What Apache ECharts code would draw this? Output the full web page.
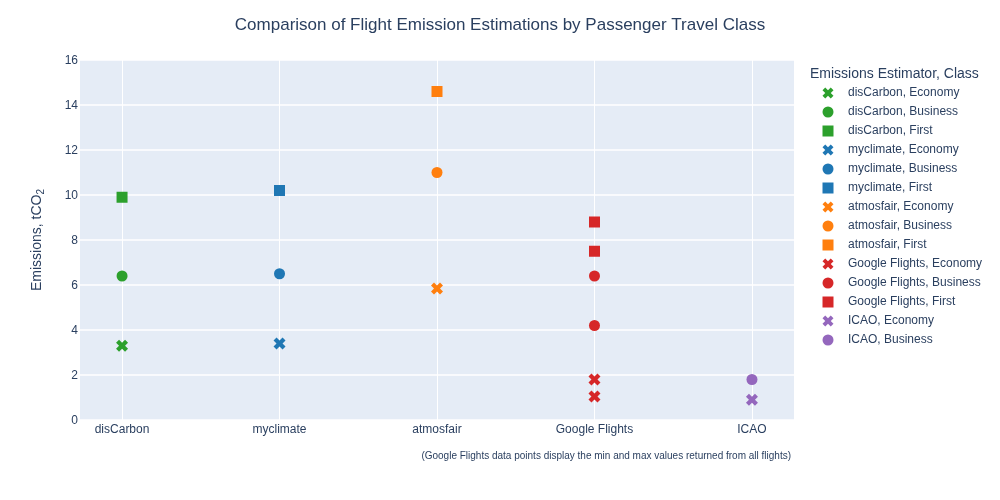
<!DOCTYPE html>
<html>
<head>
<meta charset="utf-8">
<style>
	html, body { margin: 0; padding: 0; background: #fff; }
	#chart { width: 1000px; height: 500px; }
</style>
<script src="https://cdn.jsdelivr.net/npm/echarts@6/dist/echarts.min.js"></script>
</head>
<body>
<div id="chart"></div>
<script>
// one x slot per estimator, Google Flights has a min and a max for each class
var estimators = ['disCarbon', 'myclimate', 'atmosfair', 'Google Flights', 'ICAO'];
var classes = ['Economy', 'Business', 'First'];
var colors = ['#2ca02c', '#1f77b4', '#ff7f0e', '#d62728', '#9467bd'];

var disCarbon = [[3.3], [6.4], [9.9]];
var myclimate = [[3.4], [6.5], [10.2]];
var atmosfair = [[5.85], [11], [14.6]];
var googleFlights = [[1.05, 1.8], [4.2, 6.4], [7.5, 8.8]];
var icao = [[0.9], [1.8]];
var estimatorValues = [disCarbon, myclimate, atmosfair, googleFlights, icao];

var yTicks = [0, 2, 4, 6, 8, 10, 12, 14, 16];
var xTicks = [0, 1, 2, 3, 4];

var font = '"Liberation Sans", Arial, sans-serif';
var ink = '#2a3f5f';
var crossPath = 'path://M2.5 0L5 2.5L7.5 0L10 2.5L7.5 5L10 7.5L7.5 10L5 7.5L2.5 10L0 7.5L2.5 5L0 2.5Z';
var squarePath = 'path://M0 0H10V10H0Z';
var symbols = [crossPath, 'circle', squarePath];
var symbolSizes = [12, 11, 11];

var series = [];
var legendData = [];
estimators.forEach(function (name, e) {
	estimatorValues[e].forEach(function (vals, c) {
		var label = name + ', ' + classes[c];
		legendData.push({ name: label, icon: symbols[c] });
		series.push({
			name: label,
			type: 'scatter',
			symbol: symbols[c],
			symbolSize: symbolSizes[c],
			symbolKeepAspect: true,
			itemStyle: { color: colors[e], opacity: 1 },
			data: vals.map(function (v) { return [e, v]; })
		});
	});
});

var mychart = echarts.init(document.getElementById('chart'));
mychart.setOption({
	animation: false,
	textStyle: { fontFamily: font },
	title: [
		{
			text: 'Comparison of Flight Emission Estimations by Passenger Travel Class',
			left: 500, top: 17, padding: 0, textAlign: 'center',
			textStyle: { fontFamily: font, fontSize: 17, fontWeight: 'normal', color: ink }
		},
		{
			text: 'Emissions Estimator, Class',
			left: 810, top: 67, padding: 0,
			textStyle: { fontFamily: font, fontSize: 14, fontWeight: 'normal', color: ink }
		},
		{
			text: '(Google Flights data points display the min and max values returned from all flights)',
			left: 791, top: 451, padding: 0, textAlign: 'right',
			textStyle: { fontFamily: font, fontSize: 10, fontWeight: 'normal', color: ink }
		}
	],
	legend: {
		orient: 'vertical',
		left: 822.5,
		top: 87,
		padding: 0,
		itemWidth: 30,
		itemHeight: 11,
		itemGap: 7,
		selectedMode: false,
		data: legendData,
		textStyle: { fontFamily: font, fontSize: 12, color: ink, padding: [4, 0, 0, 0] }
	},
	grid: {
		left: 80, right: 206, top: 60, bottom: 80,
		show: true, backgroundColor: '#E5ECF6', borderWidth: 0
	},
	xAxis: {
		type: 'value',
		min: -0.267,
		max: 4.267,
		axisLine: { show: false },
		axisTick: { show: false, customValues: xTicks },
		axisLabel: {
			customValues: xTicks,
			color: ink, fontFamily: font, fontSize: 12, margin: 4,
			formatter: function (v) { return estimators[v]; }
		},
		splitLine: { show: true, lineStyle: { color: '#fff', width: 1 } }
	},
	yAxis: {
		type: 'value',
		min: 0,
		max: 16,
		interval: 2,
		name: '{main|Emissions, tCO}{sub|2}',
		nameLocation: 'middle',
		nameGap: 34,
		nameTextStyle: {
			rich: {
				main: { fontFamily: font, fontSize: 14, color: ink, lineHeight: 18 },
				sub: { fontFamily: font, fontSize: 10, color: ink, lineHeight: 18, verticalAlign: 'bottom' }
			}
		},
		axisLine: { show: false },
		axisTick: { show: false },
		axisLabel: {
			margin: 2,
			customValues: yTicks,
			formatter: '{t|{value}}',
			rich: {
				t: { color: ink, fontFamily: font, fontSize: 12, padding: [2, 0, 0, 0] }
			}
		},
		splitLine: { show: true, lineStyle: { color: '#fff', width: 1.5 } }
	},
	series: series
});
</script>
</body>
</html>
